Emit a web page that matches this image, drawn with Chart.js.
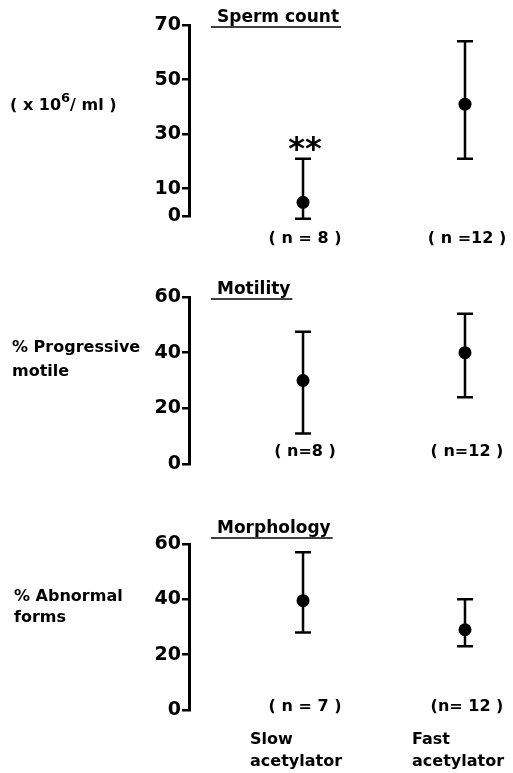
<!DOCTYPE html>
<html>
<head>
<meta charset="utf-8">
<script src="https://cdn.jsdelivr.net/npm/chart.js@4/dist/chart.umd.min.js"></script>
<style>
  html, body { margin: 0; padding: 0; background: #fff; }
  #wrap { position: relative; width: 513px; height: 773px; }
  canvas { position: absolute; left: 0; }
</style>
</head>
<body>
<div id="wrap">
  <canvas id="c1" width="513" height="260" style="top:0px"></canvas>
  <canvas id="c2" width="513" height="250" style="top:260px"></canvas>
  <canvas id="c3" width="513" height="263" style="top:510px"></canvas>
</div>
<script>
// ---- DATA ----
const categories = ['Slow acetylator', 'Fast acetylator'];

const spermMean = [5, 41];
const spermLow  = [-1, 21];
const spermHigh = [21, 64];
const spermTicks = [0, 10, 30, 50, 70];
const spermN = ['( n = 8 )', '( n =12 )'];

const motMean = [30, 40];
const motLow  = [11, 24];
const motHigh = [47.5, 54];
const motTicks = [0, 20, 40, 60];
const motN = ['( n=8 )', '( n=12 )'];

const morphMean = [39.5, 29];
const morphLow  = [28, 23];
const morphHigh = [57, 40];
const morphTicks = [0, 20, 40, 60];
const morphN = ['( n = 7 )', '(n= 12 )'];

// ---- STYLE ----
const FONT = '"DejaVu Sans", sans-serif';
const W = 'bold';
Chart.defaults.font.family = FONT;
Chart.defaults.color = '#000';

function makePanel(id, opts) {
  const ctxEl = document.getElementById(id);
  const errorBars = {
    id: 'errorBars',
    afterDatasetsDraw(chart) {
      const ctx = chart.ctx, xs = chart.scales.x, ys = chart.scales.y;
      ctx.save();
      ctx.strokeStyle = '#000';
      ctx.lineWidth = 2.5;
      opts.mean.forEach((m, i) => {
        const x = xs.getPixelForValue(i);
        const yl = ys.getPixelForValue(opts.low[i]);
        const yh = ys.getPixelForValue(opts.high[i]);
        ctx.beginPath();
        ctx.moveTo(x, yl); ctx.lineTo(x, yh);
        ctx.moveTo(x - 8, yl); ctx.lineTo(x + 8, yl);
        ctx.moveTo(x - 8, yh); ctx.lineTo(x + 8, yh);
        ctx.stroke();
      });
      ctx.restore();
    }
  };
  const texts = {
    id: 'texts',
    afterDraw(chart) {
      const ctx = chart.ctx, xs = chart.scales.x, ys = chart.scales.y;
      const area = chart.chartArea;
      ctx.save();
      ctx.fillStyle = '#000';
      ctx.strokeStyle = '#000';
      // title with underline
      ctx.font = W + ' 17px ' + FONT;
      ctx.textAlign = 'left';
      ctx.textBaseline = 'alphabetic';
      const tx = 217;
      ctx.fillText(opts.title, tx, opts.titleY);
      const tw = ctx.measureText(opts.title).width;
      ctx.lineWidth = 1.5;
      ctx.beginPath();
      ctx.moveTo(tx - 6, opts.titleY + 5);
      ctx.lineTo(tx + tw + 2, opts.titleY + 5);
      ctx.stroke();
      // y-axis label (horizontal)
      ctx.font = W + ' 16px ' + FONT;
      ctx.textBaseline = 'middle';
      opts.ylabel(ctx);
      // n labels
      ctx.font = W + ' 16px ' + FONT;
      ctx.textAlign = 'center';
      opts.n.forEach((s, i) => {
        ctx.fillText(s, xs.getPixelForValue(i) + 2, area.bottom + opts.nOffset);
      });
      if (opts.extra) opts.extra(ctx, xs, ys, area);
      ctx.restore();
    }
  };
  return new Chart(ctxEl, {
    type: 'scatter',
    data: {
      labels: categories,
      datasets: [{
        data: opts.mean.map((v, i) => ({ x: i, y: v })),
        pointRadius: 6.5,
        pointBackgroundColor: '#000',
        pointBorderWidth: 0,
        showLine: false
      }]
    },
    options: {
      responsive: false,
      animation: false,
      events: [],
      layout: { padding: { left: 0, right: 8, top: opts.padTop, bottom: opts.padBottom } },
      plugins: { legend: { display: false }, tooltip: { enabled: false } },
      scales: {
        x: { type: 'linear', display: false, min: -0.704, max: 1.247 },
        y: {
          type: 'linear',
          min: opts.ticks[0],
          max: opts.ticks[opts.ticks.length - 1],
          afterBuildTicks(scale) { scale.ticks = opts.ticks.map(v => ({ value: v })); },
          afterFit(scale) { scale.width = 189; },
          border: { display: true, color: '#000', width: 3 },
          grid: { drawOnChartArea: false, drawTicks: true, tickLength: 7, color: '#000', lineWidth: 2.5 },
          ticks: { padding: 1, color: '#000', font: { size: 19, weight: 'bold' } }
        }
      }
    },
    plugins: [errorBars, texts]
  });
}

makePanel('c1', {
  mean: spermMean, low: spermLow, high: spermHigh, ticks: spermTicks, n: spermN,
  padTop: 25, padBottom: 44, title: 'Sperm count', titleY: 22, nOffset: 23,
  ylabel(ctx) {
    ctx.textAlign = 'left';
    let x = 10, y = 106;
    ctx.fillText('( x 10', x, y);
    x += ctx.measureText('( x 10').width;
    ctx.font = W + ' 13px ' + FONT;
    ctx.fillText('6', x, y - 7);
    x += ctx.measureText('6').width;
    ctx.font = W + ' 16px ' + FONT;
    ctx.fillText('/ ml )', x, y);
  },
  extra(ctx, xs, ys) {
    ctx.font = W + ' 32px ' + FONT;
    ctx.textAlign = 'center';
    ctx.textBaseline = 'middle';
    ctx.fillText('**', xs.getPixelForValue(0) + 2, ys.getPixelForValue(spermHigh[0]) - 8);
  }
});

makePanel('c2', {
  mean: motMean, low: motLow, high: motHigh, ticks: motTicks, n: motN,
  padTop: 37, padBottom: 46, title: 'Motility', titleY: 34, nOffset: -12,
  ylabel(ctx) {
    ctx.textAlign = 'left';
    ctx.fillText('% Progressive', 12, 88);
    ctx.fillText('motile', 12, 112);
  }
});

makePanel('c3', {
  mean: morphMean, low: morphLow, high: morphHigh, ticks: morphTicks, n: morphN,
  padTop: 34, padBottom: 63, title: 'Morphology', titleY: 23, nOffset: -3,
  ylabel(ctx) {
    ctx.textAlign = 'left';
    ctx.fillText('% Abnormal', 14, 87);
    ctx.fillText('forms', 14, 108);
  },
  extra(ctx, xs) {
    ctx.font = W + ' 16px ' + FONT;
    ctx.textAlign = 'left';
    ctx.textBaseline = 'middle';
    const lines = [['Slow', 'acetylator'], ['Fast', 'acetylator']];
    lines.forEach((ls, i) => {
      const x = xs.getPixelForValue(i) - 53;
      ctx.fillText(ls[0], x, 230);
      ctx.fillText(ls[1], x, 252);
    });
  }
});
</script>
</body>
</html>
